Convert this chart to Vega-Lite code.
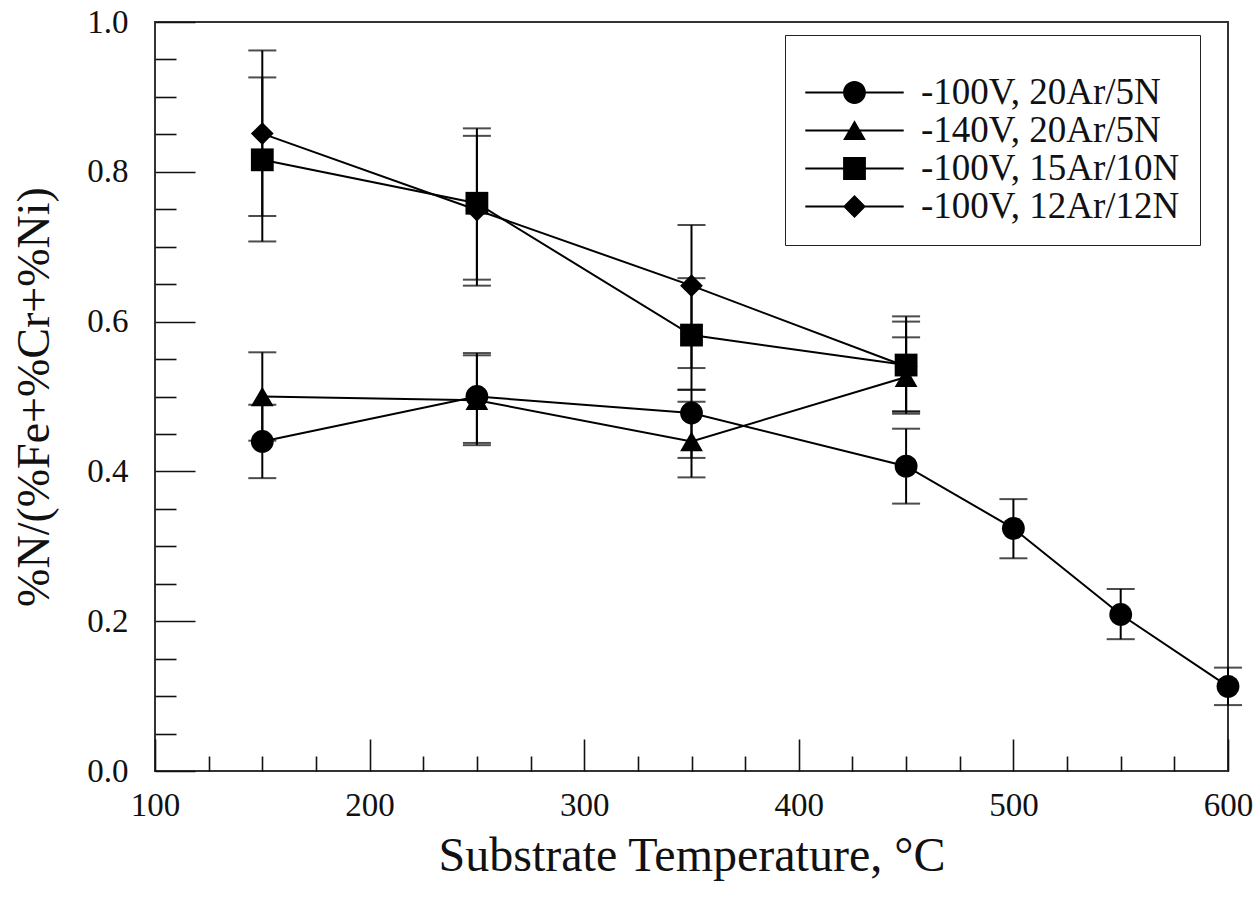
{
  "$schema": "https://vega.github.io/schema/vega-lite/v6.json",
  "width": 1073,
  "height": 749,
  "autosize": {"type": "none"},
  "padding": {"left": 155, "top": 22, "right": 32, "bottom": 126},
  "background": "white",
  "config": {
    "font": "Times New Roman, Liberation Serif, serif",
    "view": {"stroke": "#333", "strokeWidth": 2},
    "axis": {
      "domain": false,
      "grid": false,
      "tickColor": "#111",
      "tickWidth": 1.6,
      "labelColor": "#111",
      "labelFont": "Times New Roman, Liberation Serif, serif",
      "labelFontSize": 33,
      "labelFlush": false,
      "titleFont": "Times New Roman, Liberation Serif, serif",
      "titleColor": "#111",
      "titleFontWeight": "normal"
    },
    "legend": {
      "labelFont": "Times New Roman, Liberation Serif, serif",
      "titleFont": "Times New Roman, Liberation Serif, serif",
      "labelFontSize": 37,
      "labelColor": "#111",
      "labelLimit": 500,
      "symbolSize": 576,
      "symbolStrokeWidth": 0,
      "symbolFillColor": "black",
      "symbolStrokeColor": "black",
      "symbolOpacity": 1
    }
  },
  "data": {
    "values": [
      {"s": "-100V, 20Ar/5N", "T": 150, "v": 0.440, "lo": 0.391, "hi": 0.489},
      {"s": "-100V, 20Ar/5N", "T": 250, "v": 0.500, "lo": 0.438, "hi": 0.558},
      {"s": "-100V, 20Ar/5N", "T": 350, "v": 0.478, "lo": 0.418, "hi": 0.509},
      {"s": "-100V, 20Ar/5N", "T": 450, "v": 0.407, "lo": 0.357, "hi": 0.457},
      {"s": "-100V, 20Ar/5N", "T": 500, "v": 0.324, "lo": 0.284, "hi": 0.363},
      {"s": "-100V, 20Ar/5N", "T": 550, "v": 0.209, "lo": 0.176, "hi": 0.243},
      {"s": "-100V, 20Ar/5N", "T": 600, "v": 0.113, "lo": 0.088, "hi": 0.138},
      {"s": "-140V, 20Ar/5N", "T": 150, "v": 0.500, "lo": 0.441, "hi": 0.559},
      {"s": "-140V, 20Ar/5N", "T": 250, "v": 0.495, "lo": 0.435, "hi": 0.555},
      {"s": "-140V, 20Ar/5N", "T": 350, "v": 0.440, "lo": 0.392, "hi": 0.493},
      {"s": "-140V, 20Ar/5N", "T": 450, "v": 0.526, "lo": 0.477, "hi": 0.579},
      {"s": "-100V, 15Ar/10N", "T": 150, "v": 0.816, "lo": 0.707, "hi": 0.926},
      {"s": "-100V, 15Ar/10N", "T": 250, "v": 0.758, "lo": 0.656, "hi": 0.858},
      {"s": "-100V, 15Ar/10N", "T": 350, "v": 0.582, "lo": 0.509, "hi": 0.658},
      {"s": "-100V, 15Ar/10N", "T": 450, "v": 0.542, "lo": 0.480, "hi": 0.607},
      {"s": "-100V, 12Ar/12N", "T": 150, "v": 0.851, "lo": 0.741, "hi": 0.962},
      {"s": "-100V, 12Ar/12N", "T": 250, "v": 0.749, "lo": 0.648, "hi": 0.848},
      {"s": "-100V, 12Ar/12N", "T": 350, "v": 0.648, "lo": 0.538, "hi": 0.729},
      {"s": "-100V, 12Ar/12N", "T": 450, "v": 0.540, "lo": 0.480, "hi": 0.600}
    ]
  },
  "layer": [
    {
      "mark": {"type": "rule", "color": "black", "strokeWidth": 2},
      "encoding": {
        "x": {
          "field": "T", "type": "quantitative",
          "scale": {"domain": [100, 600], "nice": false, "zero": false},
          "axis": {"orient": "bottom", "values": [125, 150, 175, 225, 250, 275, 325, 350, 375, 425, 450, 475, 525, 550, 575], "labels": false, "tickSize": -15, "title": null}
        },
        "y": {
          "field": "lo", "type": "quantitative",
          "scale": {"domain": [0, 1], "nice": false, "zero": false},
          "axis": {"orient": "left", "values": [0.05, 0.1, 0.15, 0.25, 0.3, 0.35, 0.45, 0.5, 0.55, 0.65, 0.7, 0.75, 0.85, 0.9, 0.95], "labels": false, "tickSize": -21, "title": null}
        },
        "y2": {"field": "hi"}
      }
    },
    {
      "mark": {"type": "tick", "orient": "horizontal", "color": "black", "size": 28, "thickness": 2},
      "encoding": {
        "x": {"field": "T", "type": "quantitative", "axis": null},
        "y": {"field": "lo", "type": "quantitative", "axis": null}
      }
    },
    {
      "mark": {"type": "tick", "orient": "horizontal", "color": "black", "size": 28, "thickness": 2},
      "encoding": {
        "x": {"field": "T", "type": "quantitative", "axis": null},
        "y": {"field": "hi", "type": "quantitative", "axis": null}
      }
    },
    {
      "mark": {"type": "line", "color": "black", "strokeWidth": 2},
      "encoding": {
        "x": {
          "field": "T", "type": "quantitative",
          "axis": {"orient": "bottom", "values": [100, 200, 300, 400, 500, 600], "tickSize": -32, "labelPadding": 50, "title": "Substrate Temperature, °C", "titleFontSize": 48, "titlePadding": 10}
        },
        "y": {
          "field": "v", "type": "quantitative",
          "axis": {"orient": "left", "values": [0, 0.2, 0.4, 0.6, 0.8, 1.0], "format": ".1f", "tickSize": -40, "labelPadding": 67, "title": "%N/(%Fe+%Cr+%Ni)", "titleFontSize": 46, "titlePadding": 28}
        },
        "detail": {"field": "s", "type": "nominal"},
        "order": {"field": "T", "type": "quantitative"}
      }
    },
    {
      "mark": {"type": "point", "filled": true, "color": "black", "size": 520, "opacity": 1},
      "encoding": {
        "x": {"field": "T", "type": "quantitative", "axis": null},
        "y": {"field": "v", "type": "quantitative", "axis": null},
        "shape": {
          "field": "s", "type": "nominal",
          "scale": {"domain": ["-100V, 20Ar/5N", "-140V, 20Ar/5N", "-100V, 15Ar/10N", "-100V, 12Ar/12N"], "range": ["circle", "triangle-up", "square", "diamond"]},
          "legend": null
        }
      }
    },
    {
      "transform": [{"filter": "datum.T > 1000"}],
      "mark": {"type": "point", "filled": true, "color": "black", "size": 576},
      "encoding": {
        "x": {"field": "T", "type": "quantitative", "axis": null},
        "y": {"field": "v", "type": "quantitative", "axis": null},
        "shape": {
          "field": "s", "type": "nominal",
          "scale": {
            "domain": ["-100V, 20Ar/5N", "-140V, 20Ar/5N", "-100V, 15Ar/10N", "-100V, 12Ar/12N"],
            "range": [
              "M-4.1,-0.08H4.1V0.08H-4.1ZM0.95,0A0.95,0.95,0,1,1,-0.95,0A0.95,0.95,0,1,1,0.95,0Z",
              "M-4.1,-0.08H4.1V0.08H-4.1ZM0,-0.85L0.95,0.8L-0.95,0.8Z",
              "M-4.1,-0.08H4.1V0.08H-4.1ZM-0.95,-0.95H0.95V0.95H-0.95Z",
              "M-4.1,-0.08H4.1V0.08H-4.1ZM0,-0.95L0.95,0L0,0.95L-0.95,0Z"
            ]
          },
          "legend": {
            "orient": "none",
            "legendX": 630,
            "legendY": 13,
            "title": " ",
            "titleFontSize": 11,
            "titlePadding": 8,
            "padding": 20,
            "symbolOffset": 31,
            "labelOffset": 48,
            "rowPadding": 0,
            "symbolFillColor": "black",
            "strokeColor": "#222",
            "fillColor": "white"
          }
        }
      }
    }
  ],
  "resolve": {
    "scale": {"shape": "independent"},
    "axis": {"x": "independent", "y": "independent"}
  }
}
